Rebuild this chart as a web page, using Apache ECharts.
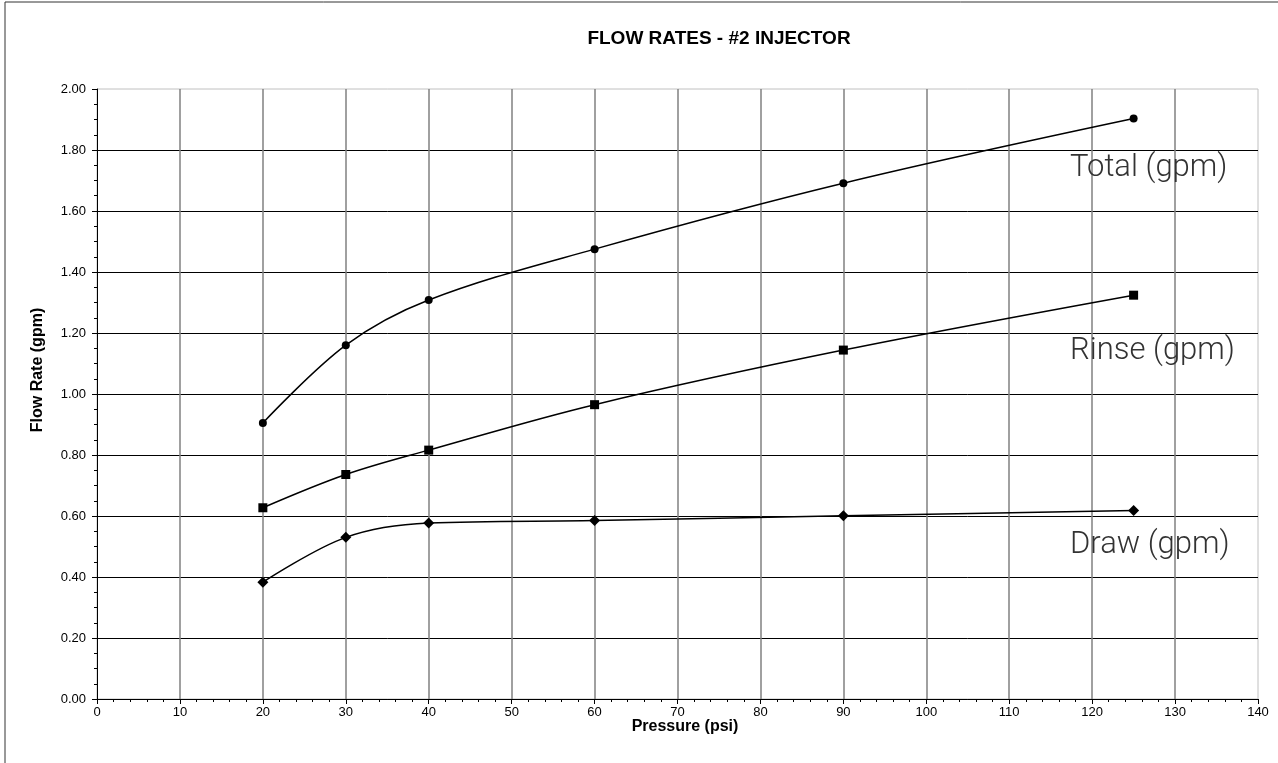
<!DOCTYPE html>
<html>
<head>
<meta charset="utf-8">
<title>Flow Rates - #2 Injector</title>
<script src="https://cdn.jsdelivr.net/npm/echarts@6/dist/echarts.min.js"></script>
<style>
  html, body { margin: 0; padding: 0; background: #fff; }
  #main { width: 1278px; height: 763px; }
</style>
</head>
<body>
<div id="main"></div>
<script>
// data
var pressure = [20, 30, 40, 60, 90, 125];
var totalGpm = [0.905, 1.16, 1.308, 1.475, 1.691, 1.903];
var rinseGpm = [0.627, 0.736, 0.816, 0.965, 1.144, 1.324];
var drawGpm  = [0.383, 0.530, 0.577, 0.585, 0.601, 0.618];

var seriesNames = ['Total (gpm)', 'Rinse (gpm)', 'Draw (gpm)'];

function pairs(xs, ys) {
    var out = [];
    for (var i = 0; i < xs.length; i++) {
        out.push([xs[i], ys[i]]);
    }
    return out;
}

// one line series, black, smoothed like excel
function makeLine(name, values, symbol, size) {
    return {
        name: name,
        type: 'line',
        data: pairs(pressure, values),
        smooth: 0.35,
        symbol: symbol,
        symbolSize: size,
        showAllSymbol: true,
        lineStyle: { color: '#000', width: 1.5 },
        itemStyle: { color: '#000' },
        z: 5
    };
}

// label next to the end of each curve
function label(text, y) {
    return {
        type: 'text',
        left: 1070,
        top: y,
        style: {
            text: text,
            fill: '#333',
            font: '300 31px Roboto'
        },
        z: 10
    };
}

var axisFont = { fontFamily: 'Liberation Sans, Arial', fontSize: 13, color: '#000' };

var option = {
    animation: false,
    backgroundColor: '#fff',
    grid: {
        left: 97, right: 20, top: 89, bottom: 64,
        show: true,
        borderColor: '#c0c0c0',
        borderWidth: 1
    },
    xAxis: {
        type: 'value',
        min: 0, max: 140, interval: 10,
        axisLine: { lineStyle: { color: '#000', width: 1 } },
        axisTick: { show: true, length: 5, inside: false, lineStyle: { color: '#000' } },
        minorTick: { show: true, splitNumber: 5, length: 3, lineStyle: { color: '#000' } },
        axisLabel: Object.assign({ margin: 7 }, axisFont),
        splitLine: { show: true, showMinLine: false, showMaxLine: false, lineStyle: { color: '#808080', width: 1.5 } }
    },
    yAxis: {
        type: 'value',
        min: 0, max: 2, interval: 0.2,
        axisLine: { show: true, lineStyle: { color: '#000', width: 1 } },
        axisTick: { show: true, length: 5, inside: false, lineStyle: { color: '#000' } },
        minorTick: { show: true, splitNumber: 4, length: 3, lineStyle: { color: '#000' } },
        axisLabel: Object.assign({
            margin: 11,
            formatter: function (v) { return v.toFixed(2); }
        }, axisFont),
        splitLine: { show: true, showMinLine: false, showMaxLine: false, lineStyle: { color: '#000', width: 1 } }
    },
    series: [
        makeLine(seriesNames[0], totalGpm, 'circle', 8),
        makeLine(seriesNames[1], rinseGpm, 'rect', 9),
        makeLine(seriesNames[2], drawGpm, 'diamond', 11)
    ],
    graphic: [
        // outer border of the chart
        {
            type: 'rect',
            shape: { x: 5, y: 2, width: 1400, height: 900 },
            style: { fill: 'none', stroke: '#333', lineWidth: 1 },
            silent: true
        },
        {
            type: 'text',
            x: 719, y: 39,
            style: {
                text: 'FLOW RATES - #2 INJECTOR',
                fill: '#000',
                font: 'bold 19px Liberation Sans, Arial',
                align: 'center',
                verticalAlign: 'middle'
            }
        },
        {
            type: 'text',
            x: 685, y: 727,
            style: {
                text: 'Pressure (psi)',
                fill: '#000',
                font: 'bold 16px Liberation Sans, Arial',
                align: 'center',
                verticalAlign: 'middle'
            }
        },
        {
            type: 'text',
            x: 38, y: 370,
            rotation: Math.PI / 2,
            style: {
                text: 'Flow Rate (gpm)',
                fill: '#000',
                font: 'bold 16px Liberation Sans, Arial',
                align: 'center',
                verticalAlign: 'middle'
            }
        },
        label(seriesNames[0], 153),
        label(seriesNames[1], 336),
        label(seriesNames[2], 530)
    ]
};

function loadChart(id, opt) {
    var myChart = echarts.init(document.getElementById(id));
    myChart.setOption(opt);
    return myChart;
}

loadChart('main', option);
</script>
</body>
</html>
